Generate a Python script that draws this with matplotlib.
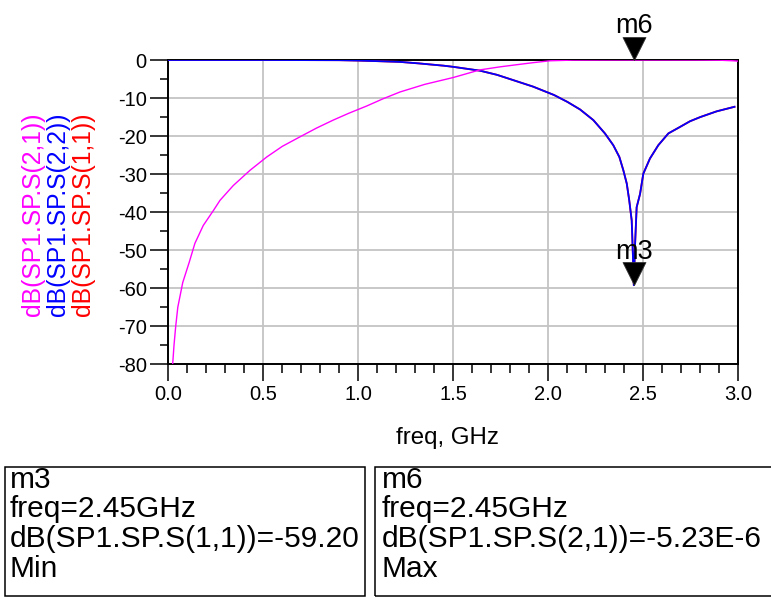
import matplotlib
matplotlib.use("Agg")
import matplotlib.pyplot as plt
from matplotlib.patches import Rectangle
from matplotlib.path import Path
from matplotlib.ticker import MultipleLocator

plt.rcParams['font.family'] = ['Liberation Sans', 'DejaVu Sans']

# S21 (transmission) sweep, GHz / dB
s21_freq = [0.023, 0.03, 0.039, 0.05, 0.076, 0.11, 0.14, 0.184, 0.237, 0.272,
            0.342, 0.43, 0.518, 0.6, 0.693, 0.78, 0.868, 0.95, 1.044, 1.13,
            1.22, 1.35, 1.5, 1.64, 1.746, 1.84, 1.92, 2.01, 2.13, 2.3, 2.45,
            2.6, 2.8, 2.9, 2.97, 3.0]
s21_db = [-80, -75, -70, -65, -58.5, -53.2, -48.2, -43.5, -39.6, -36.9,
          -33.0, -29.0, -25.5, -22.7, -20.2, -17.9, -15.8, -14.0, -12.1, -10.2,
          -8.4, -6.4, -4.6, -2.6, -1.8, -1.2, -0.7, -0.2, -0.03, -0.005, 0.0,
          -0.002, -0.01, -0.05, -0.2, -0.3]

# S11 / S22 (reflection) sweep, GHz / dB
s11_freq = [0.0, 0.5, 0.9, 1.0, 1.1, 1.22, 1.32, 1.45, 1.5, 1.64, 1.73, 1.816,
            1.92, 2.03, 2.10, 2.167, 2.237, 2.298, 2.342, 2.374, 2.395, 2.413,
            2.426, 2.439, 2.444, 2.45, 2.456, 2.465, 2.483, 2.50, 2.535, 2.579,
            2.632, 2.693, 2.746, 2.8, 2.886, 2.98]
s11_db = [0.0, 0.0, -0.05, -0.15, -0.3, -0.5, -0.9, -1.5, -1.8, -2.8, -3.9, -5.3,
          -7.0, -9.2, -11.0, -13.0, -15.8, -19.3, -22.4, -25.5, -29.0, -32.5,
          -36.9, -42.2, -49.3, -59.2, -49.3, -38.7, -35.2, -29.9, -25.9, -22.4,
          -19.3, -17.6, -16.1, -15.0, -13.5, -12.3]
s22_freq = list(s11_freq)
s22_db = list(s11_db)

# marker readouts
m3_freq, m3_db = 2.45, -59.20
m6_freq, m6_db = 2.45, -5.23e-6

x_ticks = [0.0, 0.5, 1.0, 1.5, 2.0, 2.5, 3.0]
y_ticks = [0, -10, -20, -30, -40, -50, -60, -70, -80]

W, H = 771, 597
fig = plt.figure(figsize=(W / 100, H / 100), dpi=100)

def fx(px):
    return px / W

def fy(py):
    return 1 - py / H

ax_l, ax_r, ax_t, ax_b = 168.3, 738.3, 60.0, 364.3
ax = fig.add_axes([fx(ax_l), fy(ax_b), (ax_r - ax_l) / W, (ax_b - ax_t) / H])

ax.plot(s11_freq, s11_db, color='#ff0000', lw=1.3, zorder=3)
ax.plot(s22_freq, s22_db, color='#0000ff', lw=1.3, zorder=4)
ax.plot(s21_freq, s21_db, color='#ff00ff', lw=1.0, zorder=5)

ax.set_xlim(0, 3.0)
ax.set_ylim(-80, 0)
ax.set_xticks(x_ticks)
ax.set_xticklabels([f"{v:.1f}" for v in x_ticks])
ax.set_yticks(y_ticks)
ax.set_yticklabels([str(v) for v in y_ticks])
ax.xaxis.set_minor_locator(MultipleLocator(0.1))
ax.yaxis.set_minor_locator(MultipleLocator(5))
ax.grid(True, which='major', color='#c4c4c4', lw=1.3, zorder=0)
ax.set_axisbelow(True)

ax.tick_params(axis='x', which='major', direction='out', length=12.2, width=1.1,
               pad=2.5, labelsize=14.5, color='black')
ax.tick_params(axis='x', which='minor', direction='out', length=6.5, width=1.1)
ax.tick_params(axis='y', which='major', direction='out', length=13, width=1.1,
               pad=2.5, labelsize=14.5, color='black')
ax.tick_params(axis='y', which='minor', direction='out', length=5.8, width=1.1)
for s in ax.spines.values():
    s.set_linewidth(1.4)
    s.set_color('black')

# down-pointing marker triangles with the tip on the data point
tri = Path([(0, 0), (-0.5, 1), (0.5, 1), (0, 0)],
           [Path.MOVETO, Path.LINETO, Path.LINETO, Path.CLOSEPOLY])
for f, v, name in [(m6_freq, m6_db, 'm6'), (m3_freq, m3_db, 'm3')]:
    ax.plot([f], [v], marker=tri, markersize=33, color='black',
            markeredgewidth=0.6, markeredgecolor='#333333', clip_on=False, zorder=7)
    ax.annotate(name, xy=(f, v), xytext=(0, 19.2), textcoords='offset points',
                ha='center', va='baseline', fontsize=19.5, color='black',
                annotation_clip=False, zorder=8)

fig.text(fx(447), fy(438), 'freq, GHz', ha='center', va='center', fontsize=17.3)

# stacked trace names on the left
for xpx, txt, col in [(33, 'dB(SP1.SP.S(2,1))', '#ff00ff'),
                      (58, 'dB(SP1.SP.S(2,2))', '#0000ff'),
                      (83, 'dB(SP1.SP.S(1,1))', '#ff0000')]:
    fig.text(fx(xpx), fy(214), txt, rotation=90, ha='center', va='center',
             fontsize=17.8, color=col)

# marker readout boxes
boxes = [
    (5, 365, 10, ['m3', f'freq={m3_freq:.2f}GHz',
                  f'dB(SP1.SP.S(1,1))={m3_db:.2f}', 'Min']),
    (375, 790, 382, ['m6', f'freq={m6_freq:.2f}GHz',
                     'dB(SP1.SP.S(2,1))=-5.23E-6', 'Max']),
]
box_top, box_bot = 467, 595.5
baselines = [488, 517, 547, 577]
for x0, x1, tx, lines in boxes:
    fig.patches.append(Rectangle((fx(x0), fy(box_bot)), (x1 - x0) / W,
                                 (box_bot - box_top) / H, transform=fig.transFigure,
                                 fill=False, edgecolor='black', lw=1.1))
    for yb, line in zip(baselines, lines):
        fig.text(fx(tx), fy(yb), line, ha='left', va='baseline', fontsize=21.5)

fig.savefig('out.png', dpi=100)
